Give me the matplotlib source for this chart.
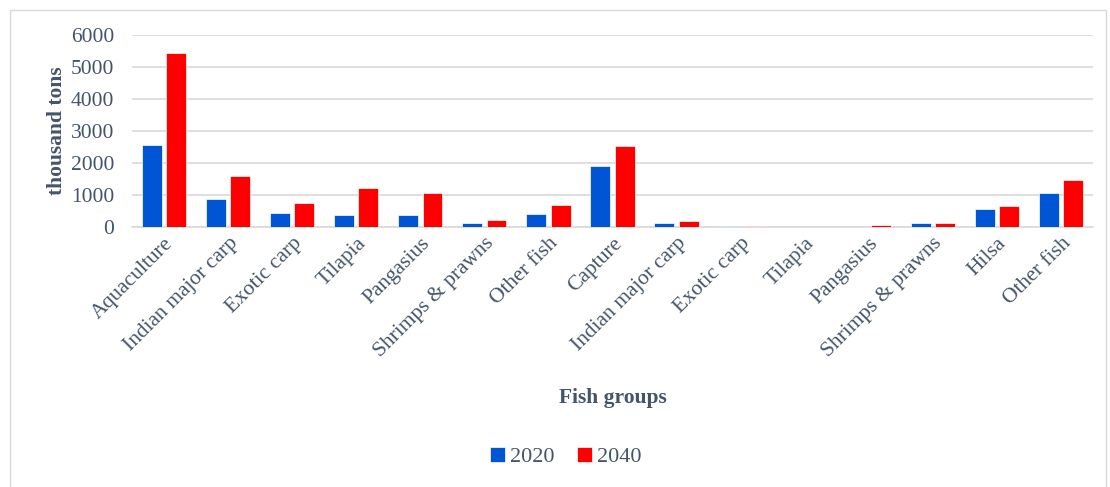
import numpy as np
import matplotlib.pyplot as plt
from matplotlib.patches import Rectangle

groups = ["Aquaculture", "Indian major carp", "Exotic carp", "Tilapia", "Pangasius",
          "Shrimps & prawns", "Other fish", "Capture", "Indian major carp", "Exotic carp",
          "Tilapia", "Pangasius", "Shrimps & prawns", "Hilsa", "Other fish"]
y2020 = [2570, 875, 440, 380, 390, 115, 400, 1900, 125, 20, 0, 5, 115, 550, 1060]
y2040 = [5450, 1590, 750, 1220, 1050, 210, 680, 2540, 190, 40, 0, 50, 125, 650, 1460]

txt = "#44546A"
plt.rcParams["font.family"] = ["Liberation Serif", "DejaVu Serif"]

fig = plt.figure(figsize=(11.1, 4.87), dpi=100)
fig.patches.append(Rectangle((0.009, -0.01), 0.987, 0.99, transform=fig.transFigure,
                             fill=False, edgecolor="#D9D9D9", linewidth=1))
ax = fig.add_axes([132 / 1110, 1 - 227 / 487, 961 / 1110, 192 / 487])

x = np.arange(len(groups))
w = 0.31
ax.bar(x - 0.19, y2020, w, color="#0055D4", edgecolor="white", linewidth=0.5, label="2020", zorder=3)
ax.bar(x + 0.19, y2040, w, color="#FF0000", edgecolor="white", linewidth=0.5, label="2040", zorder=3)

ax.set_xlim(-0.5, len(groups) - 0.5)
ax.set_ylim(0, 6000)
ax.set_yticks(range(0, 6001, 1000))
ax.grid(axis="y", color="#D9D9D9", linewidth=1.2, zorder=0)
for s in ["top", "right", "left"]:
    ax.spines[s].set_visible(False)
ax.spines["bottom"].set_color("#D9D9D9")
ax.spines["bottom"].set_linewidth(1.2)
ax.tick_params(axis="both", length=0, labelsize=15.5, colors=txt)
ax.tick_params(axis="y", pad=13)
ax.tick_params(axis="x", pad=5)
ax.set_xticks(x)
ax.set_xticklabels(groups, rotation=45, ha="right", rotation_mode="anchor")

ax.set_ylabel("thousand tons", fontsize=15.5, fontweight="bold", color=txt, labelpad=2.5)
fig.text(0.552, 1 - 398 / 487, "Fish groups", fontsize=15.5, fontweight="bold", color=txt,
         ha="center", va="center")
fig.legend(loc="center", bbox_to_anchor=(0.51, 1 - 457 / 487), ncol=2, frameon=False,
           fontsize=16, labelcolor=txt, handlelength=0.65, handleheight=0.65,
           handletextpad=0.25, columnspacing=1.0)

fig.savefig("out.png", dpi=100)
